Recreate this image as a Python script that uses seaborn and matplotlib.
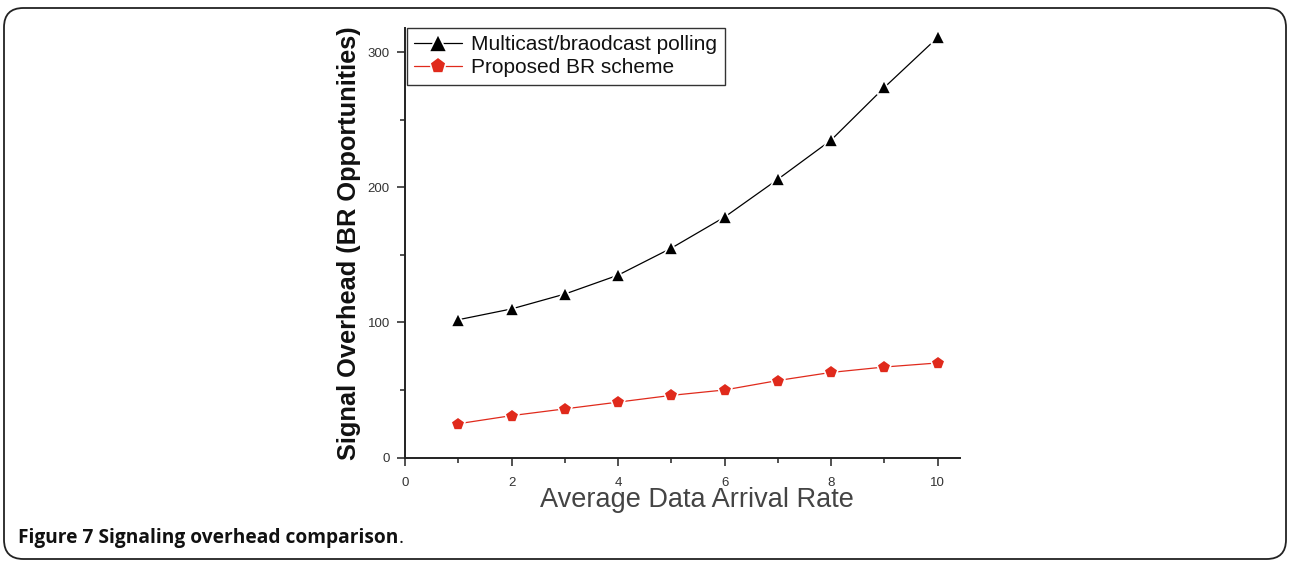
import matplotlib
matplotlib.use("Agg")
import matplotlib.pyplot as plt
from matplotlib.patches import FancyBboxPatch
from matplotlib.ticker import MultipleLocator
import seaborn as sns
import pandas as pd

rates = [1, 2, 3, 4, 5, 6, 7, 8, 9, 10]
multicast = [102, 110, 121, 135, 155, 178, 206, 235, 274, 311]
proposed = [25, 31, 36, 41, 46, 50, 57, 63, 67, 70]
series_names = ["Multicast/braodcast polling", "Proposed BR scheme"]
x_ticks = [0, 2, 4, 6, 8, 10]
y_ticks = [0, 100, 200, 300]

sns.set_theme(style="white")
plt.rcParams['font.family'] = ['Liberation Sans', 'DejaVu Sans']

df = pd.DataFrame({
    "rate": rates * 2,
    "value": multicast + proposed,
    "series": [series_names[0]] * len(rates) + [series_names[1]] * len(rates),
})

fig = plt.figure(figsize=(12.9, 5.62), dpi=100)
ax = fig.add_axes([405 / 1290, 1 - 457.5 / 562, (960 - 405) / 1290, (457.5 - 28) / 562])

sns.lineplot(data=df, x="rate", y="value", hue="series", style="series",
             markers={series_names[0]: "^", series_names[1]: "p"}, dashes=False,
             palette={series_names[0]: "black", series_names[1]: "#e02a1c"},
             markersize=10.5, markeredgecolor="white", markeredgewidth=1.2,
             linewidth=0.9, ax=ax)

ax.set_xlim(0, 10.42)
ax.set_ylim(0, 318)
ax.set_xticks(x_ticks)
ax.set_yticks(y_ticks)
ax.xaxis.set_minor_locator(MultipleLocator(1))
ax.yaxis.set_minor_locator(MultipleLocator(50))
ax.tick_params(axis="both", which="major", direction="out", length=6, width=1.1,
               labelsize=9.5, labelcolor="#333333", color="#222222",
               bottom=True, left=True)
ax.tick_params(axis="x", which="major", pad=8)
ax.tick_params(axis="y", which="major", pad=5)
ax.tick_params(axis="both", which="minor", direction="out", length=3.5, width=1.1,
               color="#222222", bottom=True, left=True)
for s in ["top", "right"]:
    ax.spines[s].set_visible(False)
for s in ["left", "bottom"]:
    ax.spines[s].set_color("#222222")
    ax.spines[s].set_linewidth(1.4)

ax.set_xlabel("Average Data Arrival Rate", fontsize=19.5, color="#444444", labelpad=0)
ax.xaxis.set_label_coords((697 - 405) / 555, -0.068)
ax.set_ylabel("Signal Overhead (BR Opportunities)", fontsize=18.3, color="#111111",
              labelpad=5, fontweight="semibold")

leg = ax.legend(loc="upper left", bbox_to_anchor=(0.003, 1.0), frameon=True, fancybox=False,
                edgecolor="black", fontsize=15, handlelength=2.3, handletextpad=0.45,
                borderpad=0.35, labelspacing=0.2, borderaxespad=0, markerscale=1.2)
leg.get_frame().set_linewidth(1.0)
for t in leg.get_texts():
    t.set_color("#111111")

frame = FancyBboxPatch((4 / 1290, 3 / 562), 1282 / 1290, 551 / 562,
                       boxstyle="round,pad=0,rounding_size=0.015",
                       transform=fig.transFigure, fill=False,
                       edgecolor="#222222", linewidth=1.3, mutation_aspect=1290 / 562)
fig.patches.append(frame)

cap = fig.text(18 / 1290, 1 - 538 / 562, "Figure 7 Signaling overhead comparison",
               fontsize=13.8, fontweight="bold", family=["Open Sans", "DejaVu Sans"],
               va="center", ha="left", color="#111111")
fig.canvas.draw()
bb = cap.get_window_extent()
fig.text(bb.x1 / 1290, 1 - 538 / 562, ".", fontsize=13.8, family=["Open Sans", "DejaVu Sans"],
         va="center", ha="left", color="#111111")

fig.savefig("out.png", dpi=100)
